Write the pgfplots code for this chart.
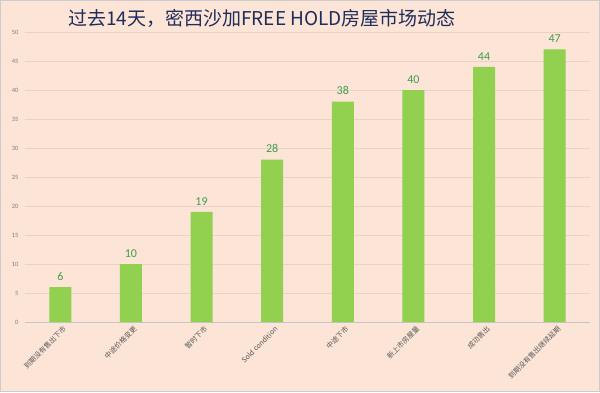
\documentclass[border=0pt]{standalone}
\usepackage{pgfplots}
\pgfplotsset{compat=1.18}
\usepackage{fontspec}
\setmainfont{Carlito}
\newfontfamily\cjk{Noto Sans CJK SC}
\definecolor{bg}{HTML}{FCE4D6}
\definecolor{barc}{HTML}{92D050}
\definecolor{lbl}{HTML}{3E9E4F}
\definecolor{ttl}{HTML}{1F2D5A}
\definecolor{tickc}{HTML}{7F7F7F}
\definecolor{gridc}{HTML}{EBD2C3}
\begin{document}
\begin{tikzpicture}[x=1pt,y=1pt]
\fill[bg] (0,0) rectangle (600,392);
\draw[gray!40] (0.5,0.5) rectangle (599.5,391.5);
\path[use as bounding box] (0,0) rectangle (600,392);
\node[font=\cjk\fontsize{19}{22}\selectfont, text=ttl] at (262,374) {过去14天，密西沙加FREE HOLD房屋市场动态};
\begin{axis}[
  at={(25pt,70pt)}, anchor=south west,
  scale only axis, width=565pt, height=290pt,
  xmin=-0.5, xmax=7.5, ymin=0, ymax=50,
  ytick={0,5,...,50},
  xtick={0,...,7},
  xticklabels={到期没有售出下市,中途价格变更,暂时下市,Sold condition,中途下市,新上市房屋量,成功售出,到期没有售出继续延期},
  x tick label style={font=\cjk\fontsize{7}{8}\selectfont, text=tickc!70!black, rotate=45, anchor=north east, inner sep=1pt},
  y tick label style={font=\fontsize{6.5}{7}\selectfont, text=tickc},
  /pgf/number format/assume math mode=true,
  ymajorgrids, grid style={draw=gridc, line width=0.6pt},
  major tick length=0pt,
  axis x line*=bottom,
  axis y line*=left,
  x axis line style={draw=gray!45, line width=0.6pt, -},
  y axis line style={draw=none},
  ybar, bar width=22pt,
  nodes near coords,
  every node near coord/.append style={font=\fontsize{12}{14}\selectfont, text=lbl, yshift=3pt},
  clip=false,
  yticklabel style={xshift=-3pt},
  xticklabel style={yshift=-3pt},
]
\addplot[fill=barc, draw=none] coordinates {(0,6) (1,10) (2,19) (3,28) (4,38) (5,40) (6,44) (7,47)};
\end{axis}
\end{tikzpicture}
\end{document}
